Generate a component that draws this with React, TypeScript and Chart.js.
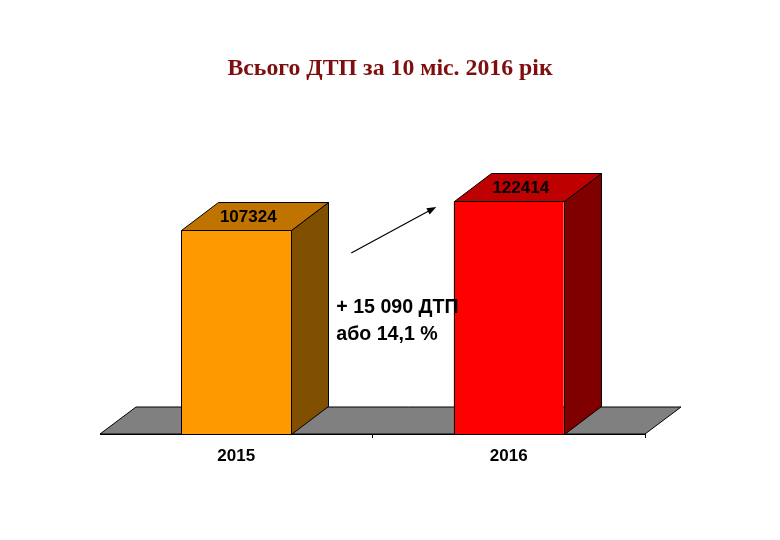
import React, { useEffect, useRef } from "react";
import { Chart, registerables } from "chart.js";

Chart.register(...registerables);

const years = ["2015", "2016"];
const totals = [107324, 122414];
const titleText = "Всього ДТП за 10 міс. 2016 рік";
const noteLines = ["+ 15 090 ДТП", "або 14,1 %"];
const arrowStart = { x: 0.422, y: 95300 };
const arrowEnd = { x: 0.734, y: 119500 };
const noteAnchor = { x: 0.367, y: 66500 };

const frontColors = ["#FF9900", "#FF0000"];
const topColors = ["#BF7300", "#BF0000"];
const sideColors = ["#805000", "#800000"];
const DX = 37;
const DY = 28;
const SANS = "'Liberation Sans', Arial, sans-serif";

const poly = (ctx: CanvasRenderingContext2D, pts: number[][], fill: string | null) => {
  ctx.beginPath();
  pts.forEach(([x, y], i) => (i ? ctx.lineTo(x, y) : ctx.moveTo(x, y)));
  ctx.closePath();
  if (fill) {
    ctx.fillStyle = fill;
    ctx.fill();
  }
  ctx.strokeStyle = "#000";
  ctx.lineWidth = 1;
  ctx.stroke();
};

const crisp = (v: number) => Math.round(v) + 0.5;

const scene3d = {
  id: "scene3d",
  beforeDatasetsDraw(chart: any) {
    const { ctx, chartArea: a } = chart;
    ctx.save();
    poly(
      ctx,
      [
        [a.left, a.bottom],
        [a.left + DX - 1, a.bottom - DY + 1],
        [a.right + DX - 1, a.bottom - DY + 1],
        [a.right, a.bottom],
      ],
      "#808080"
    );
    ctx.restore();
  },
  afterDatasetsDraw(chart: any) {
    const { ctx, scales } = chart;
    const meta = chart.getDatasetMeta(0);
    ctx.save();
    meta.data.forEach((bar: any, i: number) => {
      const l = crisp(bar.x - bar.width / 2);
      const r = crisp(bar.x + bar.width / 2);
      const t = crisp(bar.y);
      const b = crisp(bar.base);
      poly(ctx, [[l, t], [r, t], [r, b], [l, b]], null);
      poly(ctx, [[r, t], [r + DX, t - DY], [r + DX, b - DY], [r, b]], sideColors[i]);
      poly(ctx, [[l, t], [l + DX, t - DY], [r + DX, t - DY], [r, t]], topColors[i]);
      ctx.fillStyle = "#000";
      ctx.font = `bold 17px ${SANS}`;
      ctx.textAlign = "center";
      ctx.textBaseline = "middle";
      ctx.fillText(String(totals[i]), bar.x + 12, t - 13);
    });

    const x0 = scales.x.getPixelForValue(arrowStart.x);
    const y0 = scales.y.getPixelForValue(arrowStart.y);
    const x1 = scales.x.getPixelForValue(arrowEnd.x);
    const y1 = scales.y.getPixelForValue(arrowEnd.y);
    const ang = Math.atan2(y1 - y0, x1 - x0);
    ctx.strokeStyle = "#000";
    ctx.lineWidth = 1.2;
    ctx.beginPath();
    ctx.moveTo(x0, y0);
    ctx.lineTo(x1 - 6 * Math.cos(ang), y1 - 6 * Math.sin(ang));
    ctx.stroke();
    ctx.fillStyle = "#000";
    ctx.beginPath();
    ctx.moveTo(x1, y1);
    ctx.lineTo(x1 - 10 * Math.cos(ang - 0.35), y1 - 10 * Math.sin(ang - 0.35));
    ctx.lineTo(x1 - 10 * Math.cos(ang + 0.35), y1 - 10 * Math.sin(ang + 0.35));
    ctx.closePath();
    ctx.fill();

    const nx = scales.x.getPixelForValue(noteAnchor.x);
    const ny = scales.y.getPixelForValue(noteAnchor.y);
    ctx.font = `bold 19.6px ${SANS}`;
    ctx.textAlign = "left";
    ctx.textBaseline = "middle";
    ctx.fillStyle = "#000";
    noteLines.forEach((line, i) => ctx.fillText(line, nx, ny + i * 27));
    ctx.restore();
  },
};

const spacerAxis = (position: string, width: number) => ({
  position,
  display: true,
  min: 0,
  max: 140000,
  border: { display: false },
  grid: { display: false },
  ticks: { display: false },
  afterFit: (s: any) => {
    s.width = width;
  },
});

export default function App() {
  const ref = useRef<HTMLCanvasElement>(null);
  useEffect(() => {
    const chart = new Chart(ref.current!, {
      type: "bar",
      data: {
        labels: years,
        datasets: [
          {
            data: totals,
            backgroundColor: frontColors,
            borderWidth: 0,
            barPercentage: 0.403,
            categoryPercentage: 1,
          },
        ],
      },
      plugins: [scene3d],
      options: {
        responsive: false,
        animation: false,
        layout: { padding: { left: 0, right: 0, bottom: 66, top: 0 } },
        plugins: {
          legend: { display: false },
          tooltip: { enabled: false },
          title: {
            display: true,
            text: titleText,
            color: "#7F0F0F",
            font: { family: "'Liberation Serif', 'Times New Roman', serif", size: 23.8, weight: "bold" },
            padding: { top: 55, bottom: 84.4 },
          },
        },
        scales: {
          y: spacerAxis("left", 100),
          yRight: spacerAxis("right", 135),
          x: {
            afterFit: (s: any) => {
              s.height = 40;
            },
            border: { display: true, color: "#000", width: 1 },
            grid: {
              drawOnChartArea: false,
              drawTicks: true,
              tickLength: 4,
              tickColor: (c: any) => (c.index === 0 ? "rgba(0,0,0,0)" : "#000"),
            },
            ticks: {
              color: "#000",
              padding: 8,
              maxRotation: 0,
              font: { family: SANS, size: 17, weight: "bold" },
            },
          },
        },
      },
    } as any);
    return () => chart.destroy();
  }, []);
  return (
    <div style={{ position: "absolute", left: 0, top: 0, width: 780, height: 540, background: "#fff" }}>
      <canvas ref={ref} width={780} height={540} style={{ display: "block" }} />
    </div>
  );
}
